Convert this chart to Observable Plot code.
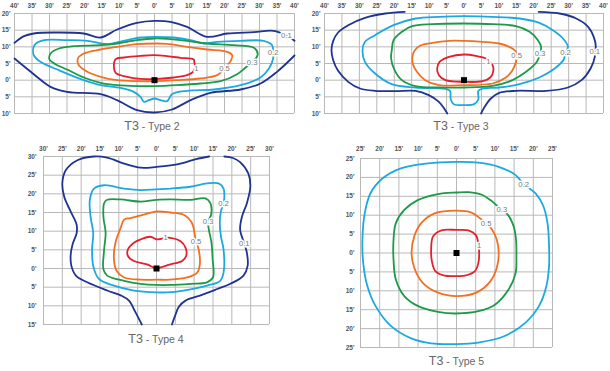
<!DOCTYPE html>
<html><head><meta charset="utf-8">
<script src="https://cdn.jsdelivr.net/npm/d3@7"></script>
<script src="https://cdn.jsdelivr.net/npm/@observablehq/plot@0.6"></script>
<style>
html,body{margin:0;padding:0;background:#fff;}
#root{position:relative;width:610px;height:371px;overflow:hidden;font-family:"Liberation Sans",Arial,sans-serif;}
#root svg{position:absolute;}
.title{position:absolute;width:140px;text-align:center;color:#666;white-space:nowrap;line-height:14px;}
.title .big{font-size:12.5px;}
.title .small{font-size:10.5px;}
</style></head><body><div id="root"></div>
<script>
// ---- levels & colours ----
const levels = ["0.1", "0.2", "0.3", "0.5", "1"];
const levelColors = ["#1f3491", "#1ba9e1", "#1c9a48", "#f37021", "#e51f2d"];

// ---- T3 - Type 2 (feet) ----
const t2_xTicks = d3.range(-40, 41, 5);
const t2_yTicks = d3.range(-10, 21, 5);
const t2_01a = [[-40,11.2],[-37.3,13.2],[-34.5,14],[-28.8,14.3],[-20.2,14],[-15.4,12.8],[-10.7,15.2],[-5,17.2],[0,17.8],[4.6,17.5],[9.3,16],[15,13],[20.8,14],[28.4,14.4],[34,14.8],[37.7,13.4],[40,11.8]];
const t2_01b = [[-40,6.5],[-34.5,1.8],[-29.7,-2],[-25,-3.5],[-15.4,-4.2],[-10.7,-6],[-5,-9],[0,-9.7],[5,-8.8],[10.3,-6],[16,-3.8],[24.6,-2.8],[30.3,-1],[35,2.5],[40,7.4]];
const t2_02 = [[33.9,8.3],[33.9,6.5],[32.7,3.5],[30.3,0.8],[24.6,-1.5],[17,-2.8],[9.3,-3.2],[5,-4.2],[3.6,-6.3],[1.7,-6],[0,-5.5],[-1.6,-6],[-3,-6.5],[-4,-5],[-5.9,-3.5],[-9.7,-2.3],[-15.4,-1.5],[-20.2,0],[-26.9,2.8],[-32.6,5.5],[-34.5,7.5],[-34.3,10.5],[-31.6,12],[-25,12],[-19.2,11.8],[-13.5,10.8],[-8.8,11.8],[-4,12.8],[0,13],[5.5,12.8],[10.3,12],[14.1,11],[17.9,11.5],[24.6,11.8],[31.2,11.8],[33.6,10.5]];
const t2_03 = [[27.9,5.2],[29.5,7.8],[28.4,9.7],[22.7,10.5],[15,11],[9.3,11.8],[3.6,12.4],[0,12.5],[-5,12],[-10.7,11],[-15.4,10.5],[-23,10.2],[-27.3,9.5],[-29.7,8],[-30,6.2],[-28.3,4.8],[-25,3.2],[-20.2,0.8],[-15.4,-0.8],[-10.7,-1.5],[-5,-1.8],[0,-1.8],[6.5,-1.5],[13.1,-1],[18.9,-0.3],[23.6,1.8],[26.3,4]];
const t2_05 = [[20,3.5],[21.9,6],[22.2,7.5],[20.8,8.5],[15,9.2],[9.3,10],[3.6,10.9],[0,11],[-5,10.8],[-10.7,10],[-15.4,9.2],[-20.2,8],[-21.9,6.5],[-21.8,4.8],[-19.7,2.8],[-15.4,1],[-10.7,0],[-5,-0.3],[0,-0.3],[6.5,0],[13.1,0.5],[17.9,1.5]];
const t2_1 = [[11.6,3.8],[11.4,5.2],[11.2,6.2],[7.4,6.7],[3.6,7.2],[0,7.5],[-4,7.3],[-8.8,6.8],[-11.1,6.3],[-11.6,4],[-11.1,2.2],[-7.8,1],[-4,0.4],[0,0.3],[5.5,0.8],[9.3,1.5],[11,2.5]];
const t2_labelPos = [[37.7,13.4],[33.9,8.3],[27.9,5.2],[20,3.5],[12,3.6]];

// ---- T3 - Type 3 (feet) ----
const t3_xTicks = d3.range(-40, 41, 5);
const t3_yTicks = d3.range(-10, 21, 5);
const t3_01a = [[-17,20.5],[-22.6,20],[-28.4,18.7],[-33.2,16.5],[-36.1,14.3],[-37.5,11.8],[-38,9],[-37.5,6],[-36.1,2.8],[-33.2,-0.5],[-29.8,-2.5],[-25.5,-3.2],[-19.7,-3.3],[-13.9,-3.2],[-10.1,-4.5],[-7.2,-6.5],[-5.5,-8.8],[-4.8,-10]];
const t3_01b = [[21.4,20.5],[27.4,20],[32.2,18.5],[35.6,16],[37.2,13],[37.8,10],[37.5,8.5],[37.5,7],[36.3,3.5],[33.7,0],[29.8,-2.2],[23.6,-3.2],[14.9,-3.2],[10.1,-3.8],[7.7,-5.5],[5.8,-8.2],[4.9,-10]];
const t3_02 = [[0,19.2],[8.2,19],[15.9,18.5],[21.6,17.2],[25.5,15],[28.4,12.5],[29.8,10],[29.1,8.2],[28.6,6.2],[26,3.5],[21.6,0.8],[15.9,-1.2],[10.1,-2.2],[5.3,-2.5],[4.1,-3.2],[4.1,-5.8],[2.9,-7.2],[0,-7.5],[-2.9,-7.2],[-3.8,-5.8],[-4,-3.2],[-5.3,-2.6],[-13.9,-2.2],[-20.7,-1.2],[-25.5,2],[-28.4,5.5],[-29.1,9],[-28.4,11.5],[-25.5,13.5],[-20.2,16.5],[-13.9,18.5],[-7.2,19]];
const t3_03 = [[0,17],[8.2,16.8],[14.9,16.2],[18.8,14.5],[21.2,12],[22.1,10],[21.8,8],[20.9,5.5],[17.8,2.5],[13.9,0],[8.2,-1.7],[0,-2.2],[-7.2,-2.2],[-13.9,-1.8],[-17.8,0],[-19.9,3],[-20.9,6.5],[-20.7,9],[-20.2,12],[-17.8,14.5],[-14.9,16.2],[-9.1,16.8]];
const t3_05 = [[0,11.8],[5.3,11.5],[10.1,11],[13,10],[14.7,8.8],[15.1,7.5],[14.9,5.5],[13.9,3],[12,0.8],[8.2,-1],[0,-1.5],[-7.2,-1.5],[-11.1,0],[-13.5,2.5],[-14.7,5],[-14.7,7.5],[-14.1,9],[-12.5,10.4],[-9.1,11.2],[-4.3,11.8]];
const t3_1 = [[0,7.7],[3.4,7.3],[6.3,6.5],[7,5.7],[8.2,4.5],[8.4,2.8],[7.7,1],[5.3,-0.3],[0,-0.5],[-5.3,0],[-7.2,1.5],[-7.7,3.5],[-7,5.5],[-4.3,7]];
const t3_labelPos = [[37.5,8.5],[29.1,8.2],[21.8,8],[15.1,7.5],[7,5.7]];

// ---- T3 - Type 4 (feet) ----
const t4_xTicks = d3.range(-30, 31, 5);
const t4_yTicks = d3.range(-15, 31, 5);
const t4_01a = [[-3.9,-15],[-5.6,-11.7],[-7.3,-8.6],[-9.5,-7.2],[-13.1,-5.9],[-18.4,-3.7],[-21.4,-1.9],[-22.6,0.7],[-22.8,3.4],[-22.3,6.4],[-21.2,9.5],[-21.2,11.7],[-22.8,15.3],[-24.5,19.2],[-25,22.8],[-24.1,26.3],[-21,29],[-16.6,30],[-13.1,29.7],[-8.6,28.1],[-4.2,27],[0,27.2],[3.7,27.6],[7.2,28.3],[10.5,29.3],[14,30]];
const t4_01b = [[18,30],[20.3,29.6],[22.2,28.5],[24.4,25.4],[24.9,21.9],[24,17.5],[22.7,13.9],[22.2,10.4],[23.3,6.7],[24,4.2],[24.2,0.7],[23.1,-1.9],[19.6,-4.1],[16.1,-5.5],[11.7,-7.2],[7.7,-8.6],[5.9,-10.3],[5,-12.5],[4.1,-15]];
const t4_02 = [[0,21.2],[3.7,21.4],[9,21.9],[13.4,22.8],[16.5,22.8],[17.8,21.4],[18,18.8],[17.8,17.5],[17.1,15.3],[16.8,12.2],[17.1,8.6],[17.8,5.1],[17.8,-1.1],[16.9,-3.3],[13.4,-4.6],[7.2,-5.9],[2.8,-6.4],[0,-6.4],[-6,-5.9],[-11.3,-4.6],[-15.3,-2.8],[-16.8,0.7],[-17.1,5.1],[-16.8,9.5],[-17.5,13.9],[-17.7,18.4],[-16.6,21.4],[-13.9,22.3],[-8.6,21.4],[-4.2,21]];
const t4_03 = [[0,18.4],[3.7,18.5],[9,18.4],[13,18.8],[14.3,17.5],[14.5,14.4],[13.7,12.6],[13.9,10.4],[14.6,6.9],[14.9,2.5],[15,-2.4],[13.4,-3.7],[9,-4.1],[3.7,-4.4],[0,-4.4],[-4.2,-4.1],[-8.6,-3.3],[-13.1,-1.9],[-14.1,-0.2],[-13.9,5.1],[-13.5,9.5],[-14.1,13.9],[-13.9,17.5],[-13.1,18.4],[-9.5,18.5],[-4.2,17.9]];
const t4_05 = [[0,15.3],[3.7,15],[7.2,14.4],[9.4,12.2],[10.3,8.2],[10.5,7.3],[11.2,5.1],[11.5,1.1],[10.8,-1.1],[8.1,-2.4],[3.7,-3],[0,-3],[-4.2,-3],[-8.6,-2.4],[-10.6,-0.6],[-11.3,2.5],[-10.9,6.9],[-9.5,10.9],[-8.6,13.1],[-6.9,13.5],[-3.4,14.4]];
const t4_1 = [[0,7.8],[2.4,8.2],[3.7,8.2],[6.4,7.3],[7.7,5.6],[7.9,3.4],[6.8,2],[3.7,1.1],[1.1,0.3],[0,0],[-2.5,1.1],[-6,2],[-7.6,3.4],[-7.6,5.1],[-6,6.9],[-4.2,7.8],[-1.6,8.5]];
const t4_labelPos = [[23.3,6.7],[17.8,17.5],[13.7,12.6],[10.5,7.3],[2.4,8.2]];

// ---- T3 - Type 5 (feet) ----
const t5_xTicks = d3.range(-25, 26, 5);
const t5_yTicks = d3.range(-25, 26, 5);
const t5_02 = [[0,24.1],[5.7,23.9],[11,22.8],[15.4,20.6],[17.5,18.2],[20.6,15.8],[22.5,12.7],[23.7,7.9],[24.1,1.8],[24.1,-3.5],[23.4,-8.8],[21.5,-14],[18,-18.4],[12.7,-21.9],[5.7,-23.7],[0,-24.1],[-6.6,-23.9],[-11.8,-22.6],[-17.1,-19.3],[-21.1,-14],[-23.2,-8.8],[-24.3,-2.6],[-24.5,3.5],[-23.9,10.5],[-22.4,15.8],[-19.3,19.7],[-14.5,22.4],[-7.5,23.7]];
const t5_03 = [[0,16],[3.1,16.1],[6.6,15.4],[8.8,14],[11.8,11.4],[13.4,10.1],[14.9,7],[15.5,3.5],[15.6,-0.9],[15.4,-5.3],[13.6,-9.6],[10.1,-13.6],[5.7,-15.4],[0,-16],[-4.8,-15.6],[-10.1,-14],[-13.6,-11.4],[-15.8,-7],[-16.4,-1.8],[-16.4,3.5],[-15.8,7.9],[-13.6,11.4],[-10.1,14],[-4.8,15.6]];
const t5_05 = [[0,11.2],[3.9,10.7],[6.1,9.2],[7.7,7.9],[9.2,6.3],[10.5,3.5],[11,0],[10.5,-3.9],[8.8,-7.5],[5.3,-10.4],[0,-11.4],[-4.8,-10.5],[-8.8,-7.9],[-11,-3.9],[-11.7,0],[-11,4.4],[-9.2,7.9],[-5.7,10.5]];
const t5_1 = [[0,6.1],[3.1,6],[5,4.8],[5.5,3.5],[5.9,0.2],[5.7,-2.6],[4.8,-4.8],[2.2,-6],[0,-6.1],[-3.1,-6],[-5.5,-4.8],[-6.4,-2.2],[-6.6,0.9],[-6.1,4.4],[-3.9,6]];
const t5_labelPos = [[17.5,18.2],[11.8,11.4],[7.7,7.9],[5.9,1.9]];
const t5_labels = ["0.2", "0.3", "0.5", "1"];

const origin = [[0, 0]];
const fmt = d => Math.abs(d) + "'";
const root = document.getElementById("root");

function rows(list) {
  return list.flatMap(([lvl, pts], i) => pts.map(p => ({id: i, level: lvl, x: p[0], y: p[1]})));
}

function panel(cfg) {
  const openRows = rows(cfg.open);
  const closedRows = rows(cfg.closed);
  const labelRows = cfg.labels.map((t, i) => ({level: t, x: cfg.labelPos[i][0], y: cfg.labelPos[i][1]}));
  const svg = Plot.plot({
    width: cfg.width, height: cfg.height,
    marginTop: cfg.m[0], marginRight: cfg.m[1], marginBottom: cfg.m[2], marginLeft: cfg.m[3],
    x: {domain: cfg.xd},
    y: {domain: cfg.yd},
    color: {domain: levels, range: levelColors},
    style: {fontFamily: "Liberation Sans, Arial, sans-serif", background: "transparent", color: "#555", overflow: "visible"},
    marks: [
      Plot.gridX(cfg.xt, {stroke: "#b8b8b8", strokeOpacity: 1, strokeWidth: 1}),
      Plot.gridY(cfg.yt, {stroke: "#b8b8b8", strokeOpacity: 1, strokeWidth: 1}),
      Plot.axisX(cfg.xt, {anchor: "top", tickSize: 0, tickPadding: cfg.xPad, tickFormat: fmt, fontSize: 6.5, fontWeight: "bold", label: null}),
      Plot.axisY(cfg.yt, {anchor: "left", tickSize: 0, tickPadding: cfg.yPad, tickFormat: fmt, fontSize: 6.5, fontWeight: "bold", label: null}),
      Plot.line(openRows, {x: "x", y: "y", z: "id", stroke: "level", strokeWidth: 1.8, curve: "catmull-rom"}),
      Plot.line(closedRows, {x: "x", y: "y", z: "id", stroke: "level", strokeWidth: 1.8, curve: "catmull-rom-closed"}),
      Plot.text(labelRows, {x: "x", y: "y", text: "level", fill: "#7a7a7a", stroke: "white", strokeWidth: 3, fontSize: 7.7}),
      Plot.dot(origin, {x: d => d[0], y: d => d[1], symbol: "square", r: 3.4, fill: "#000"})
    ]
  });
  svg.style.left = cfg.left + "px";
  svg.style.top = cfg.top + "px";
  root.append(svg);
  const t = document.createElement("div");
  t.className = "title";
  t.style.left = (cfg.tx - 70) + "px";
  t.style.top = cfg.ty + "px";
  t.innerHTML = '<span class="big">T3</span><span class="small"> - ' + cfg.title + '</span>';
  root.append(t);
}

panel({left: 0, top: 0, width: 305, height: 120, m: [13, 11, 7, 14],
  xd: [-40, 40], yd: [-10, 20], xt: t2_xTicks, yt: t2_yTicks, xPad: 6, yPad: 4,
  open: [["0.1", t2_01a], ["0.1", t2_01b]],
  closed: [["0.2", t2_02], ["0.3", t2_03], ["0.5", t2_05], ["1", t2_1]],
  labels: levels, labelPos: t2_labelPos, title: "Type 2", tx: 152, ty: 118});

panel({left: 305, top: 0, width: 305, height: 120, m: [13, 7, 7, 19],
  xd: [-40, 40], yd: [-10, 20], xt: t3_xTicks, yt: t3_yTicks, xPad: 6, yPad: 4,
  open: [["0.1", t3_01a], ["0.1", t3_01b]],
  closed: [["0.2", t3_02], ["0.3", t3_03], ["0.5", t3_05], ["1", t3_1]],
  labels: levels, labelPos: t3_labelPos, title: "Type 3", tx: 461, ty: 118});

panel({left: 0, top: 140, width: 305, height: 200, m: [16, 36, 16, 43],
  xd: [-30, 30], yd: [-15, 30], xt: t4_xTicks, yt: t4_yTicks, xPad: 5.5, yPad: 7,
  open: [["0.1", t4_01a], ["0.1", t4_01b]],
  closed: [["0.2", t4_02], ["0.3", t4_03], ["0.5", t4_05], ["1", t4_1]],
  labels: levels, labelPos: t4_labelPos, title: "Type 4", tx: 156, ty: 330.5});

panel({left: 305, top: 140, width: 305, height: 215, m: [18, 58, 8, 55],
  xd: [-25, 25], yd: [-25, 25], xt: t5_xTicks, yt: t5_yTicks, xPad: 7.5, yPad: 6,
  open: [],
  closed: [["0.2", t5_02], ["0.3", t5_03], ["0.5", t5_05], ["1", t5_1]],
  labels: t5_labels, labelPos: t5_labelPos, title: "Type 5", tx: 456.5, ty: 352.5});
</script></body></html>
